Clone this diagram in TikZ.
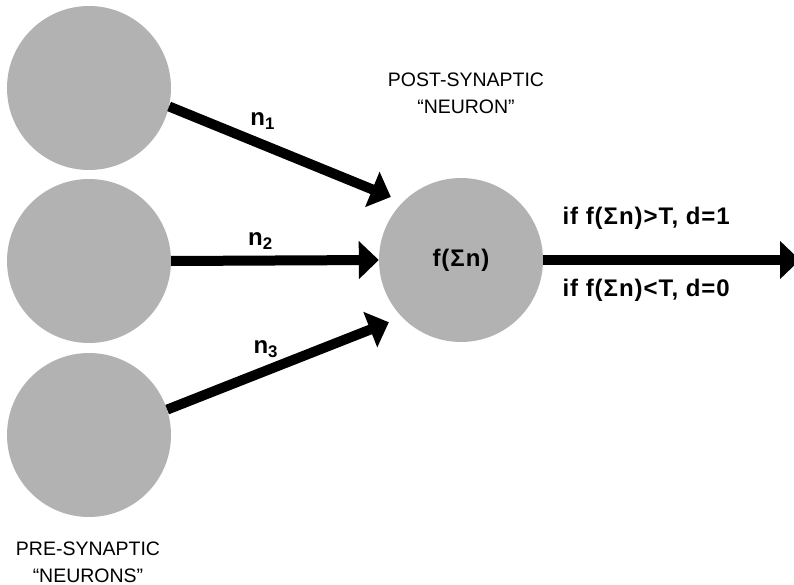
\documentclass[tikz,border=0pt]{standalone}
\usepackage{fontspec}
\setmainfont{Liberation Sans}
\newfontfamily\labfont{Liberation Sans}[LetterSpace=4]
\usetikzlibrary{arrows.meta, positioning}

\begin{document}
\begin{tikzpicture}[x=1pt, y=-1pt,
    cell/.style = {circle, fill=black!30, minimum size=164pt, inner sep=0pt,
                   font=\labfont\bfseries\fontsize{24}{28}\selectfont},
    syn/.style  = {line width=10pt, -{Triangle[length=20pt, width=37pt]}},
    lab/.style  = {font=\labfont\bfseries\fontsize{24}{28}\selectfont},
    tag/.style  = {font=\fontsize{19.5}{27}\selectfont, align=center}]
  \useasboundingbox (0,0) rectangle (794,585);

  \node (pre1) [cell] at (89,88) {};
  \node (pre2) [cell] at (89,261) {};
  \node (pre3) [cell] at (89,435) {};
  \node (post) [cell] at (461,260) {f(Σn)};
  \coordinate (out) at (800,260);

  \node (pretag)  [tag] at (88,562) {PRE-SYNAPTIC\\“NEURONS”};
  \node (posttag) [tag] at (466,93) {POST-SYNAPTIC\\“NEURON”};

  \path [syn]
    (pre1.-13) edge [shorten >=13pt] node [lab, pos=0.4, above=7pt] {n\textsubscript{1}} (post.135)
    (pre2.east) edge node [lab, pos=0.43, above=3pt] {n\textsubscript{2}} (post.west)
    (pre3.18) edge [shorten >=14pt] node [lab, pos=0.42, above=5pt] {n\textsubscript{3}} (post.-136)
    (post.east) edge (out);

  \node (hi) [lab, anchor=west] at (559,218) {if f(Σn)>T, d=1};
  \node (lo) [lab, anchor=west] at (559,290) {if f(Σn)<T, d=0};
\end{tikzpicture}
\end{document}
